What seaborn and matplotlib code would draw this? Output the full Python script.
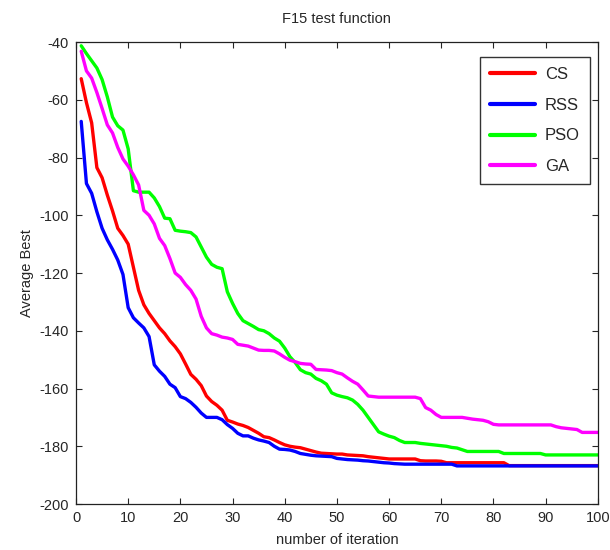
import numpy as np
import pandas as pd
import matplotlib
matplotlib.use('Agg')
import matplotlib.pyplot as plt
import seaborn as sns

# iterations 1..100, values
iteration = list(range(1, 101))

cs = [-52.7, -61, -68, -83.5, -87, -93, -98.5, -104.5, -107, -110,
      -118, -126, -131, -134, -136.5, -139, -141, -143.5, -145.5, -148,
      -151.5, -155.1, -156.8, -159, -162.6, -164.5, -165.8, -167.5, -171, -171.6,
      -172.3, -172.8, -173.5, -174.5, -175.5, -176.7, -177, -177.8, -178.7, -179.5,
      -180, -180.3, -180.5, -181, -181.5, -182, -182.4, -182.5, -182.6, -182.7,
      -182.7, -183, -183.1, -183.2, -183.3, -183.6, -183.8, -184, -184.2, -184.4,
      -184.4, -184.4, -184.4, -184.4, -184.4, -185, -185.1, -185.1, -185.1, -185.2,
      -185.7, -185.7, -185.7, -185.7, -185.7, -185.7, -185.7, -185.7, -185.7, -185.7,
      -185.7, -185.7, -186.7, -186.7, -186.7, -186.7, -186.7, -186.7, -186.7, -186.7,
      -186.7, -186.7, -186.7, -186.7, -186.7, -186.7, -186.7, -186.7, -186.7, -186.7]

rss = [-67.5, -89, -92.4, -98.8, -104.5, -108.5, -111.8, -115.5, -120.5, -132,
       -135.5, -137.3, -139, -142, -151.8, -154, -155.8, -158.5, -159.7, -162.8,
       -163.5, -164.8, -166.5, -168.5, -170, -170, -170, -170.8, -172.5, -173.8,
       -175.5, -176.4, -176.4, -177.2, -177.8, -178.2, -178.7, -180, -181, -181.1,
       -181.3, -181.8, -182.5, -182.8, -183.1, -183.3, -183.4, -183.5, -183.6, -184.2,
       -184.4, -184.6, -184.7, -184.8, -185, -185.1, -185.3, -185.5, -185.7, -185.8,
       -186, -186.1, -186.2, -186.2, -186.2, -186.2, -186.2, -186.2, -186.2, -186.2,
       -186.2, -186.2, -186.8, -186.8, -186.8, -186.8, -186.8, -186.8, -186.8, -186.8,
       -186.8, -186.8, -186.8, -186.8, -186.8, -186.8, -186.8, -186.8, -186.8, -186.8,
       -186.8, -186.8, -186.8, -186.8, -186.8, -186.8, -186.8, -186.8, -186.8, -186.8]

pso = [-41.3, -44, -46.5, -49, -53, -59, -66, -69, -70.5, -77,
       -91.5, -92, -92, -92, -94, -97, -101, -101.2, -105.2, -105.5,
       -105.7, -106, -107.5, -111, -114.5, -117, -118, -118.5, -126.5, -130.5,
       -134, -136.5, -137.5, -138.5, -139.6, -140, -141, -142.5, -143.6, -146,
       -149, -151, -153.5, -154.5, -155, -156.5, -157.3, -158.5, -161.5, -162.3,
       -162.8, -163.2, -164, -165.5, -167.5, -170, -172.5, -175, -175.8, -176.5,
       -177, -178, -178.7, -178.7, -178.7, -179, -179.2, -179.4, -179.6, -179.8,
       -180, -180.4, -180.6, -181.2, -181.8, -181.8, -181.8, -181.8, -181.8, -181.8,
       -181.8, -182.5, -182.5, -182.5, -182.5, -182.5, -182.5, -182.5, -182.5, -183,
       -183, -183, -183, -183, -183, -183, -183, -183, -183, -183]

ga = [-43.2, -50, -52.5, -57.5, -63, -68.7, -71.5, -76.5, -80.5, -83,
      -86, -89.5, -98.3, -100, -103, -108, -110.5, -115, -120, -121.5,
      -124, -126, -129, -135, -139, -141, -141.5, -142.2, -142.5, -143,
      -144.7, -145, -145.3, -146, -146.7, -146.8, -146.8, -147, -148, -149.2,
      -150.2, -150.7, -151.3, -151.5, -151.6, -153.4, -153.5, -153.6, -153.8, -154.5,
      -155, -156.3, -157.5, -158.5, -160.5, -162.6, -162.8, -163, -163, -163,
      -163, -163, -163, -163, -163, -163.5, -166.6, -167.5, -169, -170,
      -170, -170, -170, -170, -170.3, -170.6, -170.8, -171, -171.5, -172.4,
      -172.6, -172.6, -172.6, -172.6, -172.6, -172.6, -172.6, -172.6, -172.6, -172.6,
      -172.6, -173.2, -173.6, -173.8, -174, -174.2, -175.2, -175.2, -175.2, -175.2]

algos = ['CS', 'RSS', 'PSO', 'GA']
colores = ['#ff0000', '#0000ff', '#00ff00', '#ff00ff']

df = pd.DataFrame({
    'iteration': iteration * 4,
    'value': cs + rss + pso + ga,
    'algo': sum([[a] * 100 for a in algos], []),
})

sns.set_style('ticks')
plt.rcParams['font.family'] = ['Liberation Sans Narrow', 'Liberation Sans', 'DejaVu Sans']
plt.rcParams['axes.unicode_minus'] = False

fig = plt.figure(figsize=(6.1, 5.5), dpi=100)
ax = fig.add_axes([0.1246, 0.0836, 0.8554, 0.84])

sns.lineplot(data=df, x='iteration', y='value', hue='algo', hue_order=algos,
             palette=colores, linewidth=2.4, ax=ax)

ax.set_xlim(0, 100)
ax.set_ylim(-200, -40)
ax.set_xticks(np.arange(0, 101, 10))
ax.set_yticks(np.arange(-200, -39, 20))
ax.tick_params(direction='in', top=True, right=True, labelsize=10.5, length=4, width=0.8, pad=5)
for s in ax.spines.values():
    s.set_visible(True)
    s.set_linewidth(0.9)
    s.set_color('#222222')

ax.set_title('F15 test function', fontsize=10.5, pad=14)
ax.set_xlabel('number of iteration', fontsize=10.5, labelpad=6)
ax.set_ylabel('Average Best', fontsize=10.5, labelpad=4)

leg = ax.legend(loc='upper right', fontsize=12, frameon=True, fancybox=False,
                handlelength=2.7, handletextpad=0.6, borderpad=0.6, labelspacing=0.95,
                bbox_to_anchor=(0.985, 0.968), borderaxespad=0)
leg.get_frame().set_edgecolor('black')
leg.get_frame().set_linewidth(1.0)
for l in leg.get_lines():
    l.set_linewidth(3)

plt.savefig('out.png', dpi=100)
